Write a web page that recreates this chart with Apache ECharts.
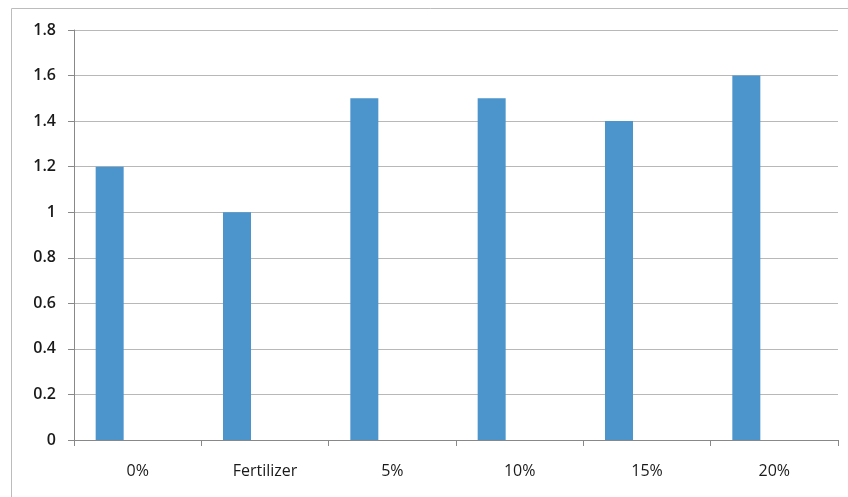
<!DOCTYPE html>
<html>
<head>
<meta charset="utf-8">
<script src="https://cdn.jsdelivr.net/npm/echarts@6/dist/echarts.min.js"></script>
<style>
  html, body { margin: 0; padding: 0; background: #fff; }
  #chart { width: 848px; height: 497px; }
</style>
</head>
<body>
<div id="chart"></div>
<script>
const categories = ['0%', 'Fertilizer', '5%', '10%', '15%', '20%'];
const values = [1.2, 1.0, 1.5, 1.5, 1.4, 1.6];
const emptySeries = [0, 0, 0, 0, 0, 0]; // the other two (empty) series from the sheet

const chart = echarts.init(document.getElementById('chart'));

const option = {
  animation: false,
  graphic: [
    {
      type: 'rect',
      shape: { x: 11.5, y: 8.5, width: 900, height: 600 },
      style: { fill: 'none', stroke: '#bcbcbc', lineWidth: 1 },
      silent: true,
    },
  ],
  grid: { left: 74, right: 10, top: 30, bottom: 57 },
  xAxis: {
    type: 'category',
    data: categories,
    axisLine: { lineStyle: { color: '#888' } },
    axisTick: { show: true, length: 6, lineStyle: { color: '#888' } },
    axisLabel: {
      margin: 23,
      color: '#1a1a1a',
      fontFamily: 'Open Sans',
      fontSize: 16,
    },
  },
  yAxis: {
    type: 'value',
    min: 0,
    max: 1.8,
    interval: 0.2,
    axisLine: { show: true, lineStyle: { color: '#888' } },
    axisTick: { show: true, length: 6, lineStyle: { color: '#888' } },
    axisLabel: {
      margin: 18,
      color: '#1a1a1a',
      fontFamily: 'Open Sans',
      fontSize: 16,
      fontWeight: 600,
      formatter: v => String(Math.round(v * 10) / 10),
    },
    splitLine: { lineStyle: { color: '#b8b8b8' } },
  },
  series: [
    {
      type: 'bar',
      data: values,
      barWidth: 28,
      barGap: '0%',
      itemStyle: { color: '#4b94cc' },
    },
    { type: 'bar', data: emptySeries, barWidth: 28, itemStyle: { color: 'transparent' } },
    { type: 'bar', data: emptySeries, barWidth: 28, itemStyle: { color: 'transparent' } },
  ],
};

chart.setOption(option);
</script>
</body>
</html>
